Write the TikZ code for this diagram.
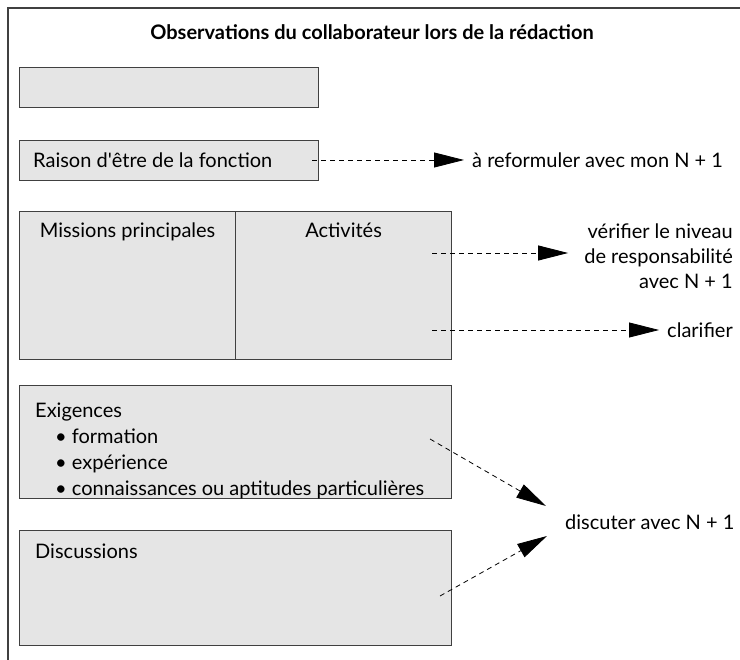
\documentclass[tikz,border=0pt]{standalone}
\usepackage{fontspec}
\setmainfont{Lato}
\usetikzlibrary{positioning,arrows.meta}
\tikzstyle{boite} = [rectangle, draw=black!75, line width=1.2pt, fill=black!10, anchor=north west, inner sep=0pt]
\tikzstyle{texte} = [font=\fontsize{20}{26}\selectfont, inner sep=0pt]
\tikzstyle{cible} = [font=\fontsize{20}{25}\selectfont, inner xsep=8pt, inner ysep=0pt]
\tikzstyle{fleche} = [line width=0.8pt, dash pattern=on 5pt off 4pt, -{Triangle[length=30pt,width=15pt]}]

\begin{document}
\begin{tikzpicture}[x=1pt, y=-1pt]
    \useasboundingbox (0,0) rectangle (740,660);
    \draw [line width=1.2pt, black!75] (8,660) -- (8,8) -- (740,8);

    \node (titre) [texte, font=\fontsize{20}{24}\selectfont\bfseries] at (372,32) {Observations du collaborateur lors de la rédaction};

    \node (vide) [boite, minimum width=299pt, minimum height=40pt] at (19,67) {};
    \node (raison) [boite, minimum width=299pt, minimum height=40pt] at (19,140) {};
    \node (raisontxt) [texte, anchor=west] at (33,160) {Raison d\textquotesingle être de la fonction};

    \node (missions) [boite, minimum width=216pt, minimum height=148pt] at (19,211) {};
    \node (activites) [boite, minimum width=216pt, minimum height=148pt] at (235,211) {};
    \node (missionstxt) [texte, below=12pt of missions.north] {Missions principales};
    \node (activitestxt) [texte, below=12pt of activites.north] {Activités};

    \node (exigences) [boite, minimum width=432pt, minimum height=113pt] at (19,385) {};
    \node (exigencestxt) [texte, anchor=north west, align=left] at (35,403) {Exigences\\
      \hspace*{20pt}\textbullet\ formation\\
      \hspace*{20pt}\textbullet\ expérience\\
      \hspace*{20pt}\textbullet\ connaissances ou aptitudes particulières};

    \node (discussions) [boite, minimum width=432pt, minimum height=115pt] at (19,530) {};
    \node (discussionstxt) [texte, anchor=north west] at (35,544) {Discussions};

    % remarques du collaborateur
    \node (reform) [cible, anchor=west] at (464,160) {à reformuler avec mon N + 1};
    \node (verif) [cible, anchor=east, align=right] at (741,256) {vérifier le niveau\\de responsabilité\\avec N + 1};
    \node (clar) [cible, anchor=east] at (741,330) {clarifier};
    \node (disc) [texte, anchor=west] at (565,522) {discuter avec N + 1};

    \coordinate (d1) at (312,160);
    \coordinate (d2) at (432,253);
    \coordinate (d3) at (432,330);
    \coordinate (d4) at (430,439);
    \coordinate (d5) at (440,596);

    \draw [fleche] (d1) -- (reform.west);
    \draw [fleche] (d2) -- ([xshift=-8pt]verif.west |- d2);
    \draw [fleche] (d3) -- (clar.west);
    \draw [fleche] (d4) -- ([shift={(-19,-16)}]disc.west);
    \draw [fleche] (d5) -- ([shift={(-18,14)}]disc.west);
\end{tikzpicture}
\end{document}
